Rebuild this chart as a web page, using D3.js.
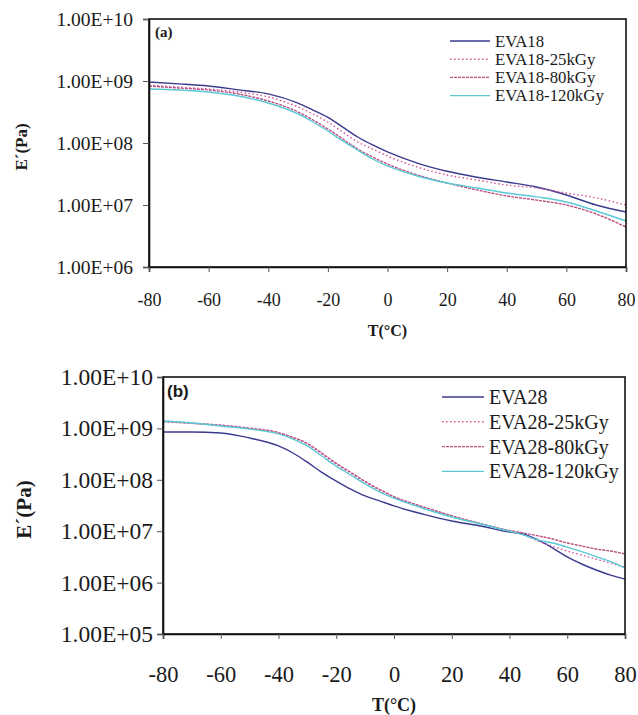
<!DOCTYPE html>
<html>
  <head>
    <meta charset="utf-8">
    <title>EVA storage modulus vs temperature</title>
    <script src="https://d3js.org/d3.v7.min.js"></script>
    <style>
      body { margin: 0; background: #fff; }
      svg text { font-family: "Liberation Serif", "Times New Roman", serif; fill: #1a1a1a; }
    </style>
  </head>
  <body>
    <svg id="chart" width="638" height="715"></svg>
    <script>
      // temperatures (°C) sampled from the curves
      const tempsA = [-80, -70, -60, -50, -40, -30, -25, -20, -15, -10, -5, 0, 10, 20, 30, 40, 50, 60, 70, 80];
      const tempsB = [-80, -70, -60, -50, -40, -35, -30, -25, -20, -15, -10, -5, 0, 10, 20, 30, 40, 45, 50, 55, 60, 65, 70, 75, 80];

      // panel (a) storage modulus E' (Pa)
      const namesA = ["EVA18", "EVA18-25kGy", "EVA18-80kGy", "EVA18-120kGy"];
      const eva18 = [9.6e8, 9.0e8, 8.3e8, 7.2e8, 6.2e8, 4.4e8, 3.4e8, 2.6e8, 1.8e8, 1.25e8, 9.3e7, 7.2e7, 4.75e7, 3.5e7, 2.8e7, 2.35e7, 1.95e7, 1.45e7, 1.0e7, 7.7e6];
      const eva18_25 = [8.6e8, 8.0e8, 7.43e8, 6.65e8, 5.52e8, 3.81e8, 2.94e8, 2.18e8, 1.5e8, 1.04e8, 8.0e7, 6.17e7, 4.1e7, 3.05e7, 2.53e7, 2.1e7, 1.88e7, 1.56e7, 1.3e7, 1.0e7];
      const eva18_80 = [8.3e8, 7.7e8, 7.16e8, 6.17e8, 4.76e8, 3.16e8, 2.35e8, 1.68e8, 1.16e8, 8.0e7, 5.94e7, 4.58e7, 3.05e7, 2.26e7, 1.75e7, 1.4e7, 1.2e7, 1.0e7, 7.16e6, 4.42e6];
      const eva18_120 = [7.43e8, 7.16e8, 6.65e8, 5.73e8, 4.42e8, 2.94e8, 2.18e8, 1.56e8, 1.08e8, 7.7e7, 5.52e7, 4.26e7, 2.94e7, 2.26e7, 1.88e7, 1.56e7, 1.35e7, 1.12e7, 8.0e6, 5.52e6];

      // panel (b) storage modulus E' (Pa)
      const namesB = ["EVA28", "EVA28-25kGy", "EVA28-80kGy", "EVA28-120kGy"];
      const eva28 = [8.5e8, 8.5e8, 8.15e8, 6.5e8, 4.55e8, 3.32e8, 2.2e8, 1.4e8, 9.45e7, 6.6e7, 4.85e7, 3.9e7, 3.1e7, 2.15e7, 1.58e7, 1.26e7, 9.6e6, 8.8e6, 6.7e6, 4.7e6, 3.15e6, 2.3e6, 1.76e6, 1.4e6, 1.17e6];
      const eva28_25 = [1.39e9, 1.27e9, 1.16e9, 1.02e9, 8.2e8, 6.5e8, 5.0e8, 3.2e8, 2.0e8, 1.35e8, 9.1e7, 6.3e7, 4.6e7, 2.95e7, 1.97e7, 1.38e7, 1.0e7, 8.4e6, 6.4e6, 5.1e6, 4.1e6, 3.44e6, 2.85e6, 2.4e6, 2.0e6];
      const eva28_80 = [1.36e9, 1.25e9, 1.15e9, 1.0e9, 8.3e8, 6.7e8, 5.1e8, 3.3e8, 2.1e8, 1.4e8, 9.3e7, 6.5e7, 4.7e7, 3.0e7, 2.0e7, 1.4e7, 1.03e7, 9.2e6, 8.1e6, 7.05e6, 5.9e6, 5.15e6, 4.5e6, 4.12e6, 3.6e6];
      const eva28_120 = [1.39e9, 1.27e9, 1.11e9, 9.7e8, 7.8e8, 6.2e8, 4.55e8, 2.9e8, 1.85e8, 1.24e8, 8.3e7, 5.8e7, 4.4e7, 2.8e7, 1.89e7, 1.38e7, 1.0e7, 8.4e6, 6.7e6, 5.9e6, 4.9e6, 4.0e6, 3.2e6, 2.55e6, 1.92e6];

      // axis ticks
      const xTicks = [-80, -60, -40, -20, 0, 20, 40, 60, 80];
      const yTicksA = [1e6, 1e7, 1e8, 1e9, 1e10];
      const yTicksB = [1e5, 1e6, 1e7, 1e8, 1e9, 1e10];

      // line styles, same order as the series
      const styles = [
        { color: "#3b3a8f", dash: null },
        { color: "#d4539a", dash: "1.5,2.5" },
        { color: "#bb4f80", dash: "3,1" },
        { color: "#58c9d5", dash: null }
      ];

      const svg = d3.select("#chart");
      const fmt = d => "1.00E+" + String(Math.round(Math.log10(d))).padStart(2, "0");

      drawPanel({
        left: 149, right: 626, top: 19, bottom: 267,
        temps: tempsA, series: [eva18, eva18_25, eva18_80, eva18_120], names: namesA,
        yTicks: yTicksA, tickFont: 19.5, xFont: 18, yLabelGap: 16, xLabelDy: 39,
        tag: "(a)", tagFont: "15px", tagFamily: "Liberation Serif", tagX: 155, tagY: 37,
        titleFont: 16, xTitleY: 336, yTitleX: 21,
        legX: 450, legW: 40, legY: 41, legStep: 18.2, legFont: 16.8
      });

      drawPanel({
        left: 163, right: 625, top: 377, bottom: 634,
        temps: tempsB, series: [eva28, eva28_25, eva28_80, eva28_120], names: namesB,
        yTicks: yTicksB, tickFont: 23.5, xFont: 22.5, yLabelGap: 10, xLabelDy: 48,
        tag: "(b)", tagFont: "17px", tagFamily: "Liberation Sans", tagX: 167, tagY: 397,
        titleFont: 18, xTitleY: 711, yTitleX: 24,
        legX: 442, legW: 42, legY: 397, legStep: 24.8, legFont: 20
      });

      function drawPanel(p) {
        const x = d3.scaleLinear().domain([-80, 80]).range([p.left, p.right]);
        const y = d3.scaleLog().domain([p.yTicks[0], 1e10]).range([p.bottom, p.top]);
        const g = svg.append("g");

        // curves
        const line = d3.line()
          .x((d, i) => x(p.temps[i]))
          .y(d => y(d))
          .curve(d3.curveMonotoneX);
        g.selectAll(".curve")
          .data(p.series)
          .enter().append("path")
            .attr("class", "curve")
            .attr("d", line)
            .attr("fill", "none")
            .attr("stroke", (d, i) => styles[i].color)
            .attr("stroke-width", 1.4)
            .attr("stroke-dasharray", (d, i) => styles[i].dash);

        // frame
        g.append("rect")
          .attr("x", p.left).attr("y", p.top)
          .attr("width", p.right - p.left).attr("height", p.bottom - p.top)
          .attr("fill", "none").attr("stroke", "#111").attr("stroke-width", 1.6);

        // y axis
        const yAxis = g.append("g")
          .attr("transform", "translate(" + p.left + ",0)")
          .call(d3.axisLeft(y).tickValues(p.yTicks).tickFormat(fmt).tickSize(6).tickPadding(p.yLabelGap - 6));
        yAxis.select(".domain").attr("stroke", "#111").attr("stroke-width", 1.6);
        yAxis.selectAll(".tick line").attr("stroke", "#555");
        yAxis.selectAll("text")
          .attr("font-size", p.tickFont)
          .attr("font-family", "Liberation Serif")
          .attr("fill", "#1a1a1a");

        // x axis, plain hyphen for negatives as in the original
        const xAxis = g.append("g")
          .attr("transform", "translate(0," + p.bottom + ")")
          .call(d3.axisBottom(x).tickValues(xTicks).tickFormat(d => String(d))
            .tickSize(5).tickPadding(p.xLabelDy - 5 - p.xFont * 0.71));
        xAxis.select(".domain").attr("stroke", "#111").attr("stroke-width", 1.6);
        xAxis.selectAll(".tick line").attr("stroke", "#555");
        xAxis.selectAll("text")
          .attr("font-size", p.xFont)
          .attr("font-family", "Liberation Serif")
          .attr("fill", "#1a1a1a");

        // axis titles
        svg.append("text")
          .attr("x", (p.left + p.right) / 2)
          .attr("y", p.xTitleY)
          .attr("text-anchor", "middle")
          .attr("font-weight", "bold")
          .attr("font-size", p.titleFont)
          .text("T(°C)");
        svg.append("text")
          .attr("transform", "translate(" + p.yTitleX + "," + ((p.top + p.bottom) / 2 + 4) + ") rotate(-90)")
          .attr("text-anchor", "middle")
          .attr("dominant-baseline", "central")
          .attr("font-weight", "bold")
          .attr("font-size", p.titleFont + (p.titleFont > 16 ? 3 : 1))
          .text("E\u00b4(Pa)");

        // panel tag
        svg.append("text")
          .attr("x", p.tagX).attr("y", p.tagY)
          .attr("font-weight", "bold")
          .attr("font-size", p.tagFont)
          .style("font-family", p.tagFamily)
          .text(p.tag);

        // legend
        const leg = g.selectAll(".leg")
          .data(p.names)
          .enter().append("g")
            .attr("class", "leg")
            .attr("transform", (d, i) => "translate(" + p.legX + "," + (p.legY + i * p.legStep) + ")");
        leg.append("line")
          .attr("x1", 0).attr("x2", p.legW)
          .attr("stroke", (d, i) => styles[i].color)
          .attr("stroke-width", 1.4)
          .attr("stroke-dasharray", (d, i) => styles[i].dash);
        leg.append("text")
          .attr("x", p.legW + 5)
          .attr("dy", "0.35em")
          .attr("font-size", p.legFont)
          .text(d => d);
      }
    </script>
  </body>
</html>
